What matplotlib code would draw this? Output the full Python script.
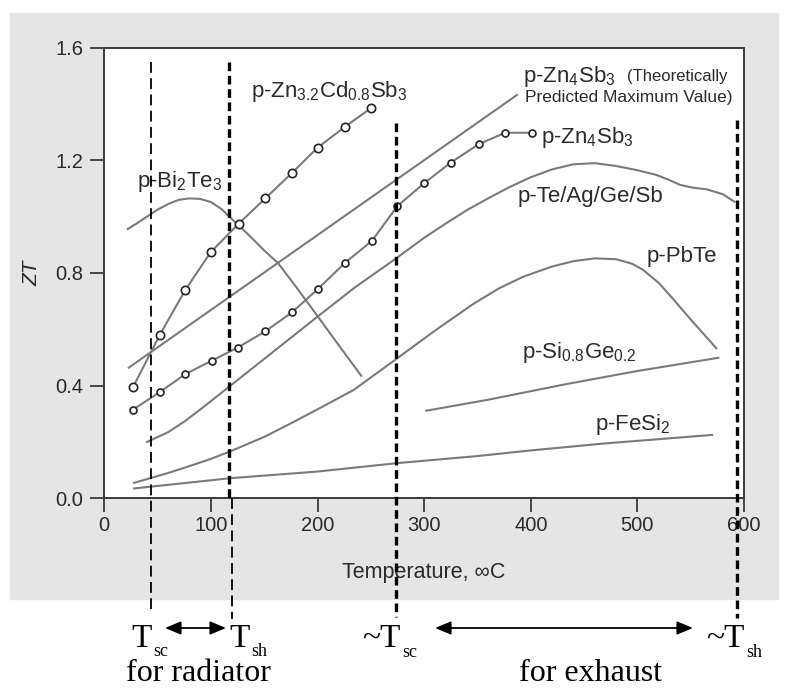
import matplotlib
matplotlib.use('Agg')
import matplotlib.pyplot as plt
from matplotlib.patches import Rectangle, FancyArrowPatch

plt.rcParams['font.family'] = ['Liberation Sans', 'DejaVu Sans']
plt.rcParams['mathtext.fontset'] = 'custom'
plt.rcParams['mathtext.rm'] = 'Liberation Serif'
plt.rcParams['mathtext.sf'] = 'Liberation Sans'
plt.rcParams['mathtext.it'] = 'Liberation Sans:italic'

# ZT vs temperature (deg C)
t_zncd = [27, 52, 76, 100, 126, 151, 176, 200, 226, 250]
zt_zncd = [0.395, 0.58, 0.74, 0.875, 0.975, 1.065, 1.155, 1.245, 1.32, 1.385]

t_zn4 = [27, 52, 76, 101, 125, 151, 176, 200, 226, 251, 275, 300, 325, 351, 376, 401]
zt_zn4 = [0.315, 0.377, 0.441, 0.489, 0.535, 0.593, 0.66, 0.742, 0.837, 0.914,
          1.038, 1.119, 1.192, 1.257, 1.298, 1.298]

t_theo = [23, 387]
zt_theo = [0.464, 1.432]

t_bite = [22, 30, 40, 50, 60, 70, 80, 90, 100, 110, 120, 130, 140, 150, 163,
          180, 200, 220, 241]
zt_bite = [0.956, 0.975, 1.0, 1.025, 1.045, 1.06, 1.065, 1.063, 1.052, 1.027,
           0.99, 0.955, 0.918, 0.88, 0.835, 0.75, 0.647, 0.543, 0.435]

t_tags = [40, 60, 76, 95, 117, 140, 160, 180, 200, 234, 273, 300, 320, 340, 360,
          380, 400, 420, 440, 460, 480, 500, 518, 530, 540, 552, 565, 580, 591]
zt_tags = [0.2, 0.235, 0.275, 0.33, 0.396, 0.465, 0.525, 0.585, 0.645, 0.746,
           0.85, 0.925, 0.975, 1.023, 1.065, 1.105, 1.14, 1.168, 1.186, 1.19,
           1.18, 1.165, 1.148, 1.13, 1.113, 1.103, 1.097, 1.08, 1.053]

t_pbte = [28, 60, 78, 100, 117, 150, 175, 203, 234, 274, 310, 346, 370, 393, 420,
          440, 460, 480, 495, 505, 520, 533, 550, 574]
zt_pbte = [0.055, 0.09, 0.112, 0.14, 0.165, 0.218, 0.266, 0.322, 0.385, 0.495,
           0.595, 0.69, 0.745, 0.787, 0.823, 0.842, 0.852, 0.849, 0.833, 0.812,
           0.765, 0.71, 0.635, 0.533]

t_sige = [302, 360, 434, 500, 576]
zt_sige = [0.311, 0.35, 0.406, 0.452, 0.499]

t_fesi = [28, 100, 117, 200, 275, 350, 400, 470, 570]
zt_fesi = [0.035, 0.064, 0.071, 0.095, 0.125, 0.15, 0.17, 0.195, 0.225]

# dashed markers: radiator (cold, hot) and exhaust (cold, hot)
t_marks = [44, 117, 273.5, 593]

xticks = [0, 100, 200, 300, 400, 500, 600]
yticks = [0.0, 0.4, 0.8, 1.2, 1.6]

fig = plt.figure(figsize=(7.99, 6.89), dpi=100)
W, H = 799.0, 689.0

# gray panel behind the original figure
fig.patches.append(Rectangle((10 / W, 1 - 599 / H), 768 / W, 586 / H,
                             transform=fig.transFigure, color='#e5e5e5', zorder=-10))

ax = fig.add_axes([104.3 / W, 1 - 498.3 / H, (744 - 104.3) / W, (498.3 - 47.7) / H])
ax.set_xlim(0, 600)
ax.set_ylim(0, 1.6)
ax.set_facecolor('white')

gray = '#7a7a7a'
lw = 1.5
ax.plot(t_bite, zt_bite, color=gray, lw=lw)
ax.plot(t_tags, zt_tags, color=gray, lw=lw)
ax.plot(t_pbte, zt_pbte, color=gray, lw=lw)
ax.plot(t_sige, zt_sige, color=gray, lw=lw)
ax.plot(t_fesi, zt_fesi, color=gray, lw=lw)
ax.plot(t_theo, zt_theo, color=gray, lw=lw)
ax.plot(t_zncd, zt_zncd, color=gray, lw=lw, marker='o', ms=6, mfc='white',
        mec='#222222', mew=1.2)
ax.plot(t_zn4, zt_zn4, color=gray, lw=lw, marker='o', ms=5, mfc='white',
        mec='#222222', mew=1.2)

# vertical dashed lines, running down past the axis
ax.plot([t_marks[0]] * 2, [1.55, -0.40], color='black', lw=1.3, ls=(0, (6, 3)),
        clip_on=False, zorder=5)
ax.plot([t_marks[1]] * 2, [1.55, 0.0], color='black', lw=2.4, ls=(0, (2.6, 1.4)),
        clip_on=False, zorder=5)
ax.plot([t_marks[1] + 2.5] * 2, [0.0, -0.43], color='black', lw=1.3, ls=(0, (6, 3)),
        clip_on=False, zorder=5)
ax.plot([t_marks[2]] * 2, [1.333, -0.42], color='black', lw=2.4, ls=(0, (2.6, 1.4)),
        clip_on=False, zorder=5)
ax.plot([t_marks[3]] * 2, [1.343, -0.425], color='black', lw=2.4, ls=(0, (2.6, 1.4)),
        clip_on=False, zorder=5)

# curve labels
tc = '#2a2a2a'
lab = dict(fontsize=16, color=tc, va='baseline')
ax.text(31, 1.107, 'p-Bi$_\\mathsf{2}$Te$_\\mathsf{3}$', **lab)
ax.text(138, 1.426, 'p-Zn$_\\mathsf{3.2}$Cd$_\\mathsf{0.8}$Sb$_\\mathsf{3}$', **lab)
ax.text(392.6, 1.479, 'p-Zn$_\\mathsf{4}$Sb$_\\mathsf{3}$', **lab)
ax.text(490, 1.482, '(Theoretically', fontsize=12, color=tc, va='baseline')
ax.text(394.4, 1.408, 'Predicted Maximum Value)', fontsize=12.5, color=tc, va='baseline')
ax.text(410, 1.261, 'p-Zn$_\\mathsf{4}$Sb$_\\mathsf{3}$', **lab)
ax.text(388, 1.053, 'p-Te/Ag/Ge/Sb', **lab)
ax.text(508.6, 0.84, 'p-PbTe', **lab)
ax.text(391.4, 0.497, 'p-Si$_\\mathsf{0.8}$Ge$_\\mathsf{0.2}$', **lab)
ax.text(460, 0.2425, 'p-FeSi$_\\mathsf{2}$', **lab)

for s in ax.spines.values():
    s.set_color('#3a3a3a')
    s.set_linewidth(1.4)
ax.set_xticks(xticks)
ax.set_yticks(yticks)
ax.set_yticklabels(['%.1f' % v for v in yticks])
ax.tick_params(direction='out', length=10, width=1.3, color='#3a3a3a',
               labelsize=14.5, labelcolor='#2a2a2a', pad=3)
ax.tick_params(axis='y', pad=5)
ax.set_xlabel('Temperature, \u221eC', fontsize=15.5, color='#2a2a2a', labelpad=19)
ax.set_ylabel('ZT', fontsize=15, color='#2a2a2a', style='italic', labelpad=10)


def fx(px):
    return px / W


def fy(py):
    return 1 - py / H


# bottom annotations in serif: big T with a small subscript
big = dict(fontsize=24, color='black', family='Liberation Serif', va='baseline')
small = dict(fontsize=13, color='black', family='Liberation Serif', va='baseline')
fig.text(fx(131), fy(647), 'T', **big)
fig.text(fx(153), fy(656), 'sc', **small)
fig.text(fx(229), fy(647), 'T', **big)
fig.text(fx(251), fy(656), 'sh', **small)
fig.text(fx(362), fy(647), '~T', **big)
fig.text(fx(402), fy(657), 'sc', **small)
fig.text(fx(706), fy(647), '~T', **big)
fig.text(fx(746), fy(657), 'sh', **small)
fig.text(fx(198), fy(681), 'for radiator', ha='center', **dict(big, fontsize=23))
fig.text(fx(591), fy(681), 'for exhaust', ha='center', **dict(big, fontsize=23))

ap = dict(arrowstyle='<|-|>,head_length=0.6,head_width=0.25', color='black', lw=1.3,
          mutation_scale=16, shrinkA=0, shrinkB=0)
fig.add_artist(FancyArrowPatch((fx(165), fy(628)), (fx(226), fy(628)),
                               transform=fig.transFigure, **ap))
fig.add_artist(FancyArrowPatch((fx(435), fy(628)), (fx(693), fy(628)),
                               transform=fig.transFigure, **ap))

fig.savefig('out.png', dpi=100)
